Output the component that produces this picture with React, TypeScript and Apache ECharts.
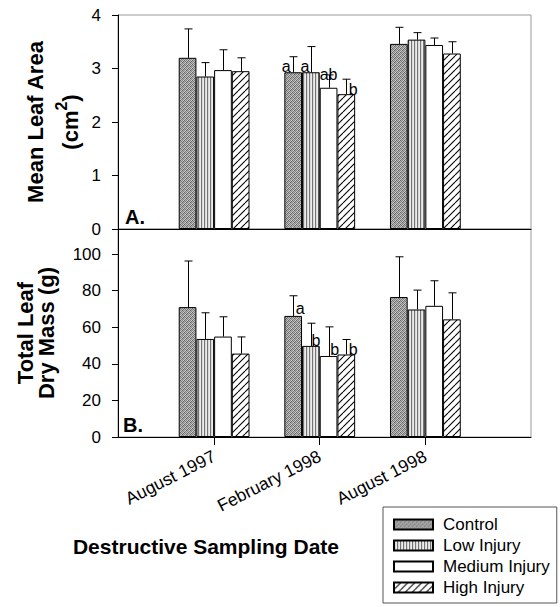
import React, { useEffect, useRef } from 'react';
import * as echarts from 'echarts';

// ---------- data ----------
const categories = ['August 1997', 'February 1998', 'August 1998'];
const positions = [1, 2, 3];
const treatments = ['Control', 'Low Injury', 'Medium Injury', 'High Injury'];

// Mean leaf area (cm2)
const areaControl = [3.2, 2.93, 3.46];
const areaLow = [2.85, 2.93, 3.54];
const areaMedium = [2.97, 2.64, 3.44];
const areaHigh = [2.95, 2.52, 3.28];
const areaControlErr = [0.54, 0.29, 0.31];
const areaLowErr = [0.26, 0.48, 0.13];
const areaMediumErr = [0.38, 0.24, 0.13];
const areaHighErr = [0.25, 0.28, 0.22];
const areaLetters = [
  ['', 'a', ''],
  ['', 'a', ''],
  ['', 'ab', ''],
  ['', 'b', ''],
];

// Total leaf dry mass (g)
const massControl = [71.0, 66.2, 76.5];
const massLow = [53.6, 49.8, 69.7];
const massMedium = [54.9, 44.3, 71.7];
const massHigh = [45.6, 45.1, 64.3];
const massControlErr = [25.2, 11.0, 22.0];
const massLowErr = [14.3, 12.4, 10.6];
const massMediumErr = [10.8, 15.9, 13.7];
const massHighErr = [9.1, 8.2, 14.5];
const massLetters = [
  ['', 'a', ''],
  ['', 'b', ''],
  ['', 'b', ''],
  ['', 'b', ''],
];

const areaTicks = { min: 0, max: 4, interval: 1 };
const massTicks = { min: 0, max: 113.7, interval: 20 };

// ---------- styling ----------
const FONT = '"Liberation Sans", Arial, Helvetica, sans-serif';
const BAR_W = 17.7;
const CAP = 4;
const areaLetterOffset = [[-7, 2], [-6, 2], [0, -5], [7, 3]];
const massLetterOffset = [[7, 1], [5, 3], [6, 2], [7, 3]];

function makeCanvas(w: number, h: number, draw: (ctx: CanvasRenderingContext2D) => void) {
  const c = document.createElement('canvas');
  c.width = w;
  c.height = h;
  const ctx = c.getContext('2d')!;
  draw(ctx);
  return c;
}

function makePatterns() {
  const ctrlMatrix = [
    [0x64, 0xbc, 0x84, 0xcc],
    [0xb4, 0x74, 0xc4, 0x6c],
    [0x8c, 0xcc, 0x60, 0xac],
    [0xc4, 0x7c, 0xb4, 0x84],
  ];
  const control = makeCanvas(4, 4, (ctx) => {
    for (let r = 0; r < 4; r++)
      for (let c = 0; c < 4; c++) {
        const g = ctrlMatrix[r][c];
        ctx.fillStyle = `rgb(${g},${g},${g})`;
        ctx.fillRect(c, r, 1, 1);
      }
  });
  const low = makeCanvas(3, 4, (ctx) => {
    const cols = [0x74, 0xd8, 0xec];
    for (let c = 0; c < 3; c++) {
      const g = cols[c];
      ctx.fillStyle = `rgb(${g},${g},${g})`;
      ctx.fillRect(c, 0, 1, 4);
    }
  });
  const high = makeCanvas(7, 7, (ctx) => {
    ctx.fillStyle = '#fff';
    ctx.fillRect(0, 0, 7, 7);
    ctx.strokeStyle = '#000';
    ctx.lineWidth = 1.1;
    for (let i = -1; i <= 1; i++) {
      ctx.beginPath();
      ctx.moveTo(i * 7, 7);
      ctx.lineTo(i * 7 + 7, 0);
      ctx.stroke();
    }
  });
  return [
    { image: control, repeat: 'repeat' },
    { image: low, repeat: 'repeat' },
    '#ffffff',
    { image: high, repeat: 'repeat' },
  ];
}

export default function App() {
  const ref = useRef<HTMLDivElement>(null);

  useEffect(() => {
    document.body.style.margin = '0';
    const chart = echarts.init(ref.current!, null, { renderer: 'svg' });
    const patterns = makePatterns();

    const mctx = document.createElement('canvas').getContext('2d')!;
    const measure = (t: string, f: string) => {
      mctx.font = f;
      return mctx.measureText(t).width;
    };

    const areaMeans = [areaControl, areaLow, areaMedium, areaHigh];
    const areaErrs = [areaControlErr, areaLowErr, areaMediumErr, areaHighErr];
    const massMeans = [massControl, massLow, massMedium, massHigh];
    const massErrs = [massControlErr, massLowErr, massMediumErr, massHighErr];

    const barSeries = (means: number[][], letters: string[][], offsets: number[][], idx: number) =>
      means.map((arr, s) => ({
        name: treatments[s],
        type: 'bar',
        xAxisIndex: idx,
        yAxisIndex: idx,
        barWidth: BAR_W,
        barGap: '0%',
        z: 2,
        itemStyle: {
          color: patterns[s],
          borderColor: '#000',
          borderWidth: 1,
        },
        data: arr.map((v, c) => {
          const item: any = { value: [positions[c], v] };
          if (letters[s][c]) {
            item.label = {
              show: true,
              formatter: letters[s][c],
              position: 'top',
              distance: 0,
              offset: offsets[s],
              fontSize: 16,
              color: '#000',
              fontFamily: FONT,
            };
          }
          return item;
        }),
      }));

    const errSeries = (means: number[][], errs: number[][], idx: number) => {
      const data: number[][] = [];
      means.forEach((arr, s) => arr.forEach((m, c) => data.push([positions[c], m, errs[s][c], s])));
      return {
        type: 'custom',
        xAxisIndex: idx,
        yAxisIndex: idx,
        z: 4,
        silent: true,
        encode: { x: 0, y: 1 },
        data,
        renderItem: (_p: any, api: any) => {
          const x = api.value(0);
          const y = api.value(1);
          const e = api.value(2);
          const s = api.value(3);
          const base = api.coord([x, y]);
          const top = api.coord([x, y + e]);
          const cx = Math.round(base[0] + (s - 1.5) * BAR_W) + 0.5;
          const st = { stroke: '#000', lineWidth: 1 };
          return {
            type: 'group',
            children: [
              { type: 'line', shape: { x1: cx, y1: base[1], x2: cx, y2: top[1] }, style: st },
              { type: 'line', shape: { x1: cx - CAP, y1: top[1], x2: cx + CAP, y2: top[1] }, style: st },
            ],
          };
        },
      };
    };

    const yAxisCommon = {
      type: 'value',
      axisLine: { show: true, onZero: false, lineStyle: { color: '#000', width: 1 } },
      axisTick: { show: true, length: 6, lineStyle: { color: '#000' } },
      splitLine: { show: false },
    };
    const xAxisCommon = {
      type: 'value',
      min: 0.09,
      max: 4,
      splitLine: { show: false },
      axisLine: { show: true, onZero: false, lineStyle: { color: '#000', width: 1 } },
    };

    // y-axis titles
    const titleFont = `bold 22px ${FONT}`;
    const supFont = `bold 16px ${FONT}`;
    const w1 = measure('(cm', titleFont);
    const w2 = measure('2', supFont);
    const w3 = measure(')', titleFont);
    const totalW = w1 + w2 + w3;
    const cmCenter = 122;
    const start = cmCenter + totalW / 2;
    const line2X = 70;

    const rotText = (text: string, x: number, y: number, font: string) => ({
      type: 'text',
      x,
      y,
      rotation: Math.PI / 2,
      style: { text, font, fill: '#000', align: 'center', verticalAlign: 'middle' },
    });

    const option: any = {
      animation: false,
      textStyle: { fontFamily: FONT },
      grid: [
        { left: 118, top: 15, width: 413, height: 214, show: true, borderColor: '#999', borderWidth: 1 },
        { left: 118, top: 229, width: 413, height: 208, show: true, borderColor: '#999', borderWidth: 1 },
      ],
      xAxis: [
        {
          ...xAxisCommon,
          gridIndex: 0,
          axisTick: { show: false },
          axisLabel: { show: false },
        },
        {
          ...xAxisCommon,
          gridIndex: 1,
          axisTick: { show: true, customValues: positions, length: 8, lineStyle: { color: '#000' } },
          axisLabel: {
            show: true,
            customValues: positions,
            formatter: (v: number) => categories[positions.indexOf(v)] ?? '',
            rotate: 27,
            fontSize: 17.5,
            color: '#000',
            margin: 18,
            fontFamily: FONT,
          },
        },
      ],
      yAxis: [
        {
          ...yAxisCommon,
          gridIndex: 0,
          ...areaTicks,
          axisLabel: { fontSize: 17, color: '#000', margin: 17, fontFamily: FONT },
        },
        {
          ...yAxisCommon,
          gridIndex: 1,
          ...massTicks,
          axisLabel: { fontSize: 17, color: '#000', margin: 17, fontFamily: FONT, showMaxLabel: false },
        },
      ],
      legend: {
        data: treatments,
        orient: 'vertical',
        left: 383,
        top: 507,
        padding: [9, 7, 7, 10],
        itemWidth: 39,
        itemHeight: 10,
        itemGap: 4,
        borderColor: '#555',
        borderWidth: 1,
        selectedMode: false,
        icon: 'rect',
        textStyle: { fontSize: 17, color: '#000', fontFamily: FONT, padding: [0, 0, 0, 5] },
      },
      graphic: [
        { type: 'text', x: 125, y: 217, style: { text: 'A.', font: `bold 20px ${FONT}`, fill: '#000', align: 'left', verticalAlign: 'middle' } },
        { type: 'text', x: 123, y: 425, style: { text: 'B.', font: `bold 20px ${FONT}`, fill: '#000', align: 'left', verticalAlign: 'middle' } },
        rotText('Mean Leaf Area', 35, 122, titleFont),
        rotText('(cm', line2X, start - w1 / 2, titleFont),
        rotText('2', line2X - 9, start - w1 - w2 / 2, supFont),
        rotText(')', line2X, start - w1 - w2 - w3 / 2, titleFont),
        rotText('Total Leaf', 25, 333, titleFont),
        rotText('Dry Mass (g)', 46, 333, titleFont),
        {
          type: 'text',
          x: 206,
          y: 546,
          style: { text: 'Destructive Sampling Date', font: `bold 21px ${FONT}`, fill: '#000', align: 'center', verticalAlign: 'middle' },
        },
      ],
      series: [
        ...barSeries(areaMeans, areaLetters, areaLetterOffset, 0),
        ...barSeries(massMeans, massLetters, massLetterOffset, 1),
        errSeries(areaMeans, areaErrs, 0),
        errSeries(massMeans, massErrs, 1),
      ],
    };

    chart.setOption(option);
    return () => chart.dispose();
  }, []);

  return <div ref={ref} style={{ width: 560, height: 607 }} />;
}
